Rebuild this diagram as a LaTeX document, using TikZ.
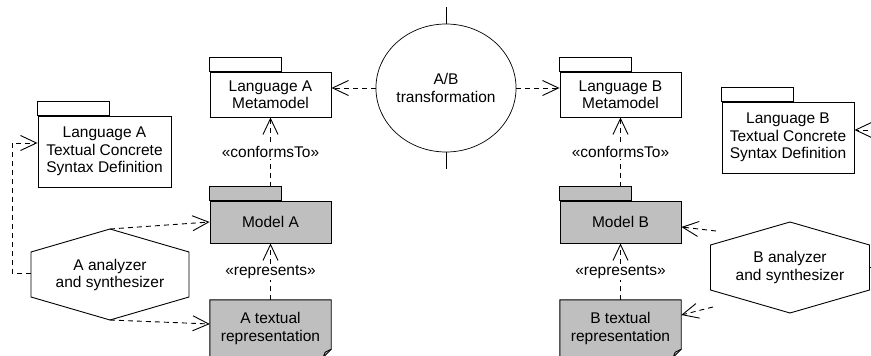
\documentclass[tikz,border=0pt]{standalone}
\usepackage{fontspec}
\setmainfont{Liberation Sans}
\usetikzlibrary{calc,arrows.meta,shapes.geometric}
\def\pkgtab[#1](#2){\draw[#1] (#2.north west) rectangle ++(72,-14);}
\tikzset{
	pkg/.style={draw, line width=0.9pt, rectangle, inner sep=0pt, align=center},
	dep/.style={line width=0.9pt, dash pattern=on 5pt off 4pt, -{Straight Barb[length=16pt,width=15pt]}},
	stereo/.style={fill=white, inner sep=1.5pt}
}
\begin{document}
\begin{tikzpicture}[x=1pt,y=-1pt,font=\fontsize{15.5}{17.5}\selectfont]
			%%%%% START %%%%%
			\clip (0,0) rectangle (871,356);
			
			\node[pkg, minimum width=121, minimum height=45] (la) at (270.5,94.5) {Language A\\Metamodel};
			\pkgtab[line width=0.9pt](la)
			\node[pkg, minimum width=121, minimum height=45] (lb) at (620.5,94.5) {Language B\\Metamodel};
			\pkgtab[line width=0.9pt](lb)
			
			\node[pkg, minimum width=133, minimum height=71] (lad) at (104.5,151.5) {Language A\\Textual Concrete\\Syntax Definition};
			\pkgtab[line width=0.9pt](lad)
			\node[pkg, minimum width=132, minimum height=71] (ldb) at (788,137.5) {Language B\\Textual Concrete\\Syntax Definition};
			\pkgtab[line width=0.9pt](ldb)
			
			\node[pkg, fill=black!25, minimum width=121, minimum height=42] (ma) at (270.5,222) {Model A};
			\pkgtab[line width=0.9pt, fill=black!25](ma)
			\node[pkg, fill=black!25, minimum width=121, minimum height=42] (mb) at (620.5,222) {Model B};
			\pkgtab[line width=0.9pt, fill=black!25](mb)
			
			% textual representations (note shape)
			\node[minimum width=121, minimum height=57, inner sep=0pt, align=center] (ta) at (270.5,328.5) {};
			\draw[line width=0.9pt, fill=black!25] (ta.north west) -- (ta.north east) -- ($(ta.south east)+(0,-8)$) -- ($(ta.south east)+(-8,0)$) -- (ta.south west) -- cycle;
			\draw[line width=0.9pt] ($(ta.south east)+(0,-8)$) -- ($(ta.south east)+(-6,-5)$) -- ($(ta.south east)+(-8,0)$);
			\node[align=center] at (ta) {A textual\\representation};
			\node[minimum width=121, minimum height=57, inner sep=0pt, align=center] (tb) at (620.5,328.5) {};
			\draw[line width=0.9pt, fill=black!25] (tb.north west) -- (tb.north east) -- ($(tb.south east)+(0,-8)$) -- ($(tb.south east)+(-8,0)$) -- (tb.south west) -- cycle;
			\draw[line width=0.9pt] ($(tb.south east)+(0,-8)$) -- ($(tb.south east)+(-6,-5)$) -- ($(tb.south east)+(-8,0)$);
			\node[align=center] at (tb) {B textual\\representation};
			
			% transformation
			\node[draw, ellipse, line width=0.7pt, minimum width=138, minimum height=128, inner sep=0pt, align=center] (tr) at (446,88) {A/B\\transformation};
			\draw[line width=0.7pt] (tr.north) -- ++(0,-17);
			\draw[line width=0.7pt] (tr.south) -- ++(0,17);
			
			% analyzers
			\node[align=center] (hexA) at (110,275) {A analyzer\\and synthesizer};
			\draw[line width=0.9pt] ($(hexA)+(0,-46)$) coordinate (hexAt) -- ++(79,23) -- ++(0,45) -- ++(-79,23) coordinate (hexAb) -- ++(-79,-23) -- ++(0,-45) -- cycle;
			\coordinate (hexAl) at ($(hexA)+(-79,-2)$);
			\node[align=center] (hexB) at (790,267.5) {B analyzer\\and synthesizer};
			\draw[line width=0.9pt] ($(hexB)+(0,-45.5)$) -- ++(79.5,23) -- ++(0,45) -- ++(-79.5,23) -- ++(-79.5,-23) -- ++(0,-45) -- cycle;
			\coordinate (hexBr) at ($(hexB)+(79.5,0)$);
			\coordinate (hexBu) at ($(hexB)+(-74,-36.5)$);
			\coordinate (hexBd) at ($(hexB)+(-77,39.5)$);
			
			% dependencies
			\draw[dep] (tr.west) -- (tr.west -| la.east);
			\draw[dep] (tr.east) -- (tr.east -| lb.west);
			\draw[dep] ($(ma.north)+(0,-14)$) -- node[stereo] {«conformsTo»} (la.south);
			\draw[dep] ($(mb.north)+(0,-14)$) -- node[stereo] {«conformsTo»} (lb.south);
			\draw[dep] (ta.north) -- node[stereo] {«represents»} (ma.south);
			\draw[dep] (tb.north) -- node[stereo] {«represents»} (mb.south);
			
			\draw[dep] (hexAt) -- (ma.west);
			\draw[dep] (hexAb) -- ($(ta.west)+(0,-4.5)$);
			\draw[dep] (hexAl) -- ++(-19,0) |- ($(lad.west)+(0,-8.5)$);
			
			\draw[dep] (hexBu) -- ($(mb.east)+(0,5)$);
			\draw[dep] (hexBd) -- ($(tb.east)+(0,-13.5)$);
			\draw[dep] (hexBr) -- ++(16,0) |- ($(ldb.east)+(0,-7.5)$);
			
			%%%%% END %%%%%
\end{tikzpicture}
\end{document}
